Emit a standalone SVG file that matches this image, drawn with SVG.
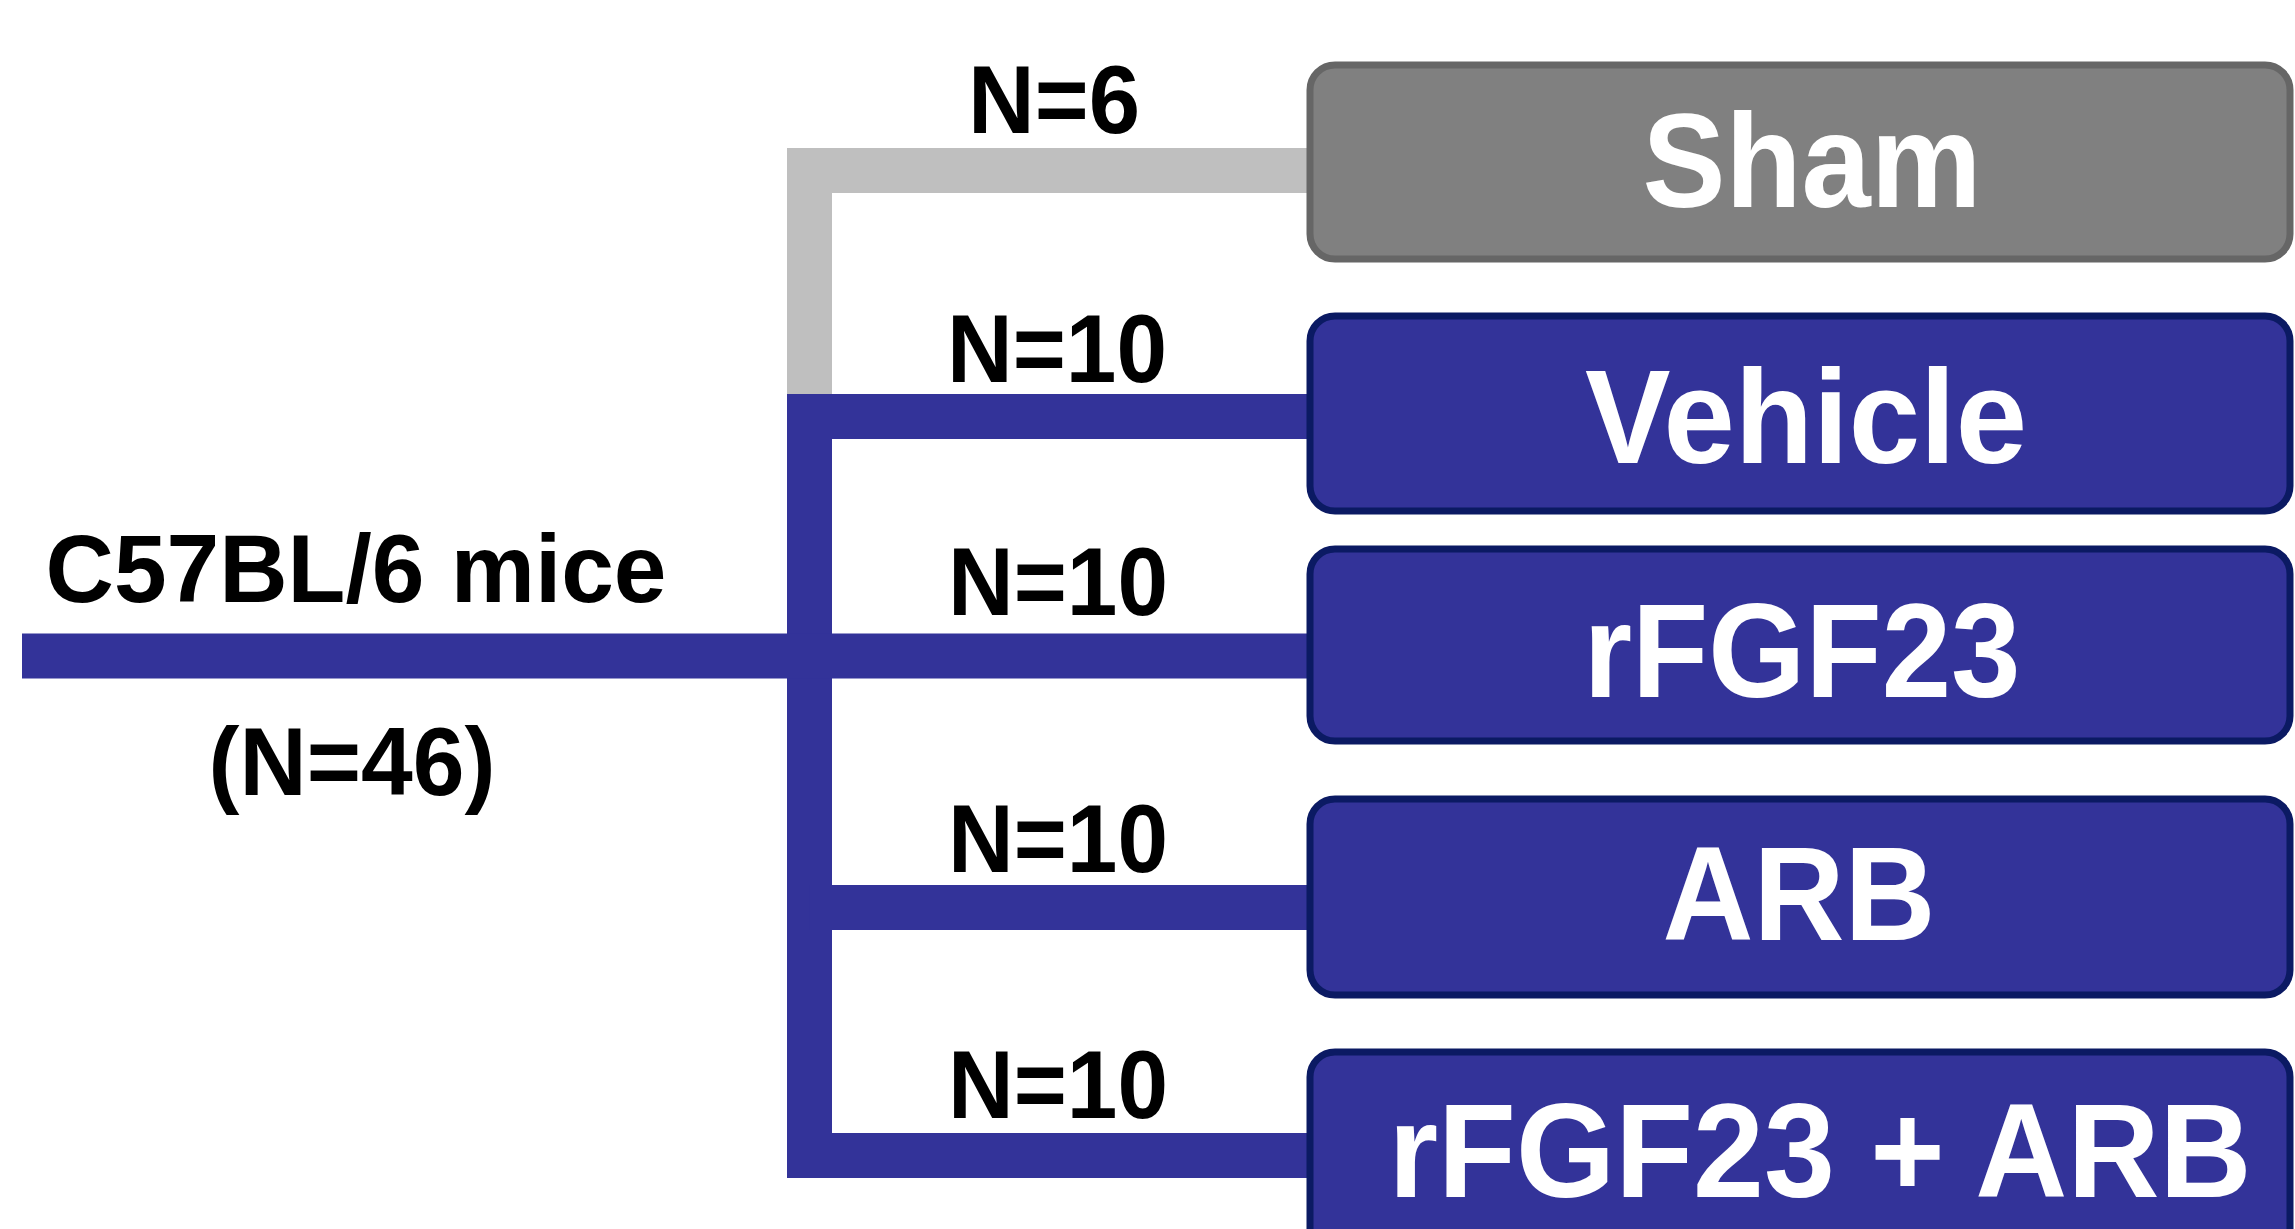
<svg xmlns="http://www.w3.org/2000/svg" width="2295" height="1229" viewBox="0 0 2295 1229">
  <style>
    .blue { fill: #333399; stroke: #0b1a63; stroke-width: 7; }
    .gray { fill: #808080; stroke: #666666; stroke-width: 7; }
    .btxt { font-family: "Liberation Sans", Arial, sans-serif; font-weight: bold; font-size: 134px; fill: #ffffff; text-anchor: middle; }
    .ltxt { font-family: "Liberation Sans", Arial, sans-serif; font-weight: bold; font-size: 96px; fill: #000000; text-anchor: middle; }
    .conn-blue { fill: none; stroke: #333399; stroke-width: 45; stroke-linejoin: miter; }
    .conn-gray { fill: none; stroke: #bfbfbf; stroke-width: 45; stroke-linejoin: miter; }
  </style>
  <rect x="0" y="0" width="2295" height="1229" fill="#ffffff"/>

  <g id="connectors">
    <path class="conn-gray" d="M1312,170.5 H809.5 V394"/>
    <path class="conn-blue" d="M1312,416.5 H809.5 V1155.5 H1312"/>
    <path class="conn-blue" d="M22,656 H1312"/>
    <path class="conn-blue" d="M809.5,907.5 H1312"/>
  </g>

  <g id="source">
    <text class="ltxt" x="356" y="602" textLength="621" lengthAdjust="spacingAndGlyphs">C57BL/6 mice</text>
    <text class="ltxt" x="352" y="795" textLength="287" lengthAdjust="spacingAndGlyphs">(N=46)</text>
  </g>

  <g id="labels">
    <text class="ltxt" x="1054" y="133" textLength="172" lengthAdjust="spacingAndGlyphs">N=6</text>
    <text class="ltxt" x="1057" y="382" textLength="220" lengthAdjust="spacingAndGlyphs">N=10</text>
    <text class="ltxt" x="1058" y="615" textLength="220" lengthAdjust="spacingAndGlyphs">N=10</text>
    <text class="ltxt" x="1058" y="872" textLength="220" lengthAdjust="spacingAndGlyphs">N=10</text>
    <text class="ltxt" x="1058" y="1118" textLength="220" lengthAdjust="spacingAndGlyphs">N=10</text>
  </g>

  <g id="sham">
    <rect class="gray" x="1310" y="65" width="980" height="194" rx="25" ry="25"/>
    <text class="btxt" x="1812" y="207" textLength="339" lengthAdjust="spacingAndGlyphs">Sham</text>
  </g>
  <g id="vehicle">
    <rect class="blue" x="1310" y="316" width="980" height="195" rx="25" ry="25"/>
    <text class="btxt" x="1806" y="463" textLength="442" lengthAdjust="spacingAndGlyphs">Vehicle</text>
  </g>
  <g id="rfgf23">
    <rect class="blue" x="1310" y="549" width="980" height="192" rx="25" ry="25"/>
    <text class="btxt" x="1802" y="697" textLength="437" lengthAdjust="spacingAndGlyphs">rFGF23</text>
  </g>
  <g id="arb">
    <rect class="blue" x="1310" y="799" width="980" height="196" rx="25" ry="25"/>
    <text class="btxt" x="1799" y="940" textLength="273" lengthAdjust="spacingAndGlyphs">ARB</text>
  </g>
  <g id="rfgf23-arb">
    <rect class="blue" x="1310" y="1052" width="980" height="250" rx="25" ry="25"/>
    <text class="btxt" x="1820" y="1197" textLength="863" lengthAdjust="spacingAndGlyphs">rFGF23 + ARB</text>
  </g>
</svg>
